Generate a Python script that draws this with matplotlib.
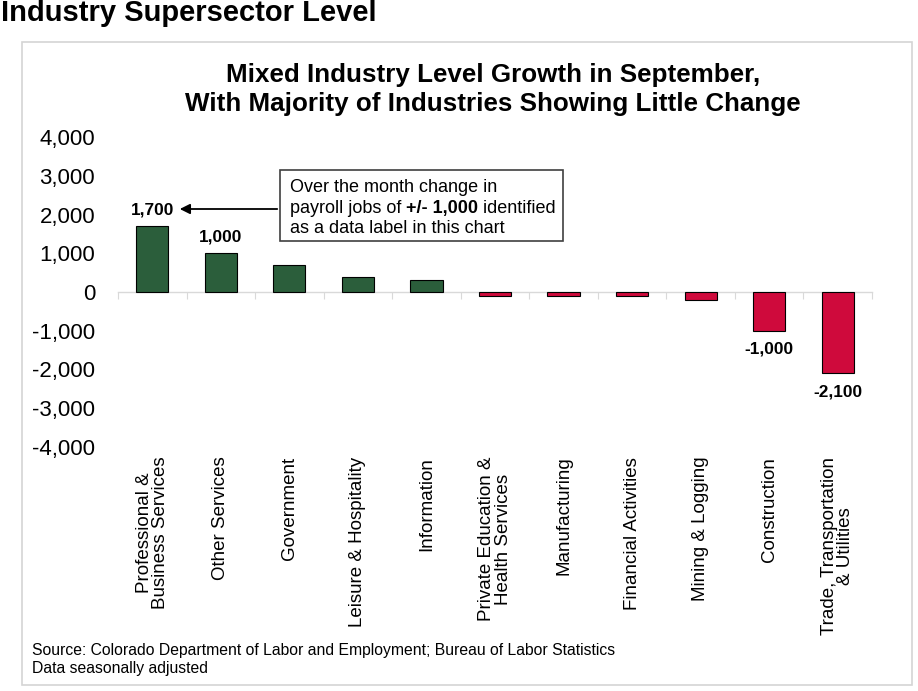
import matplotlib
matplotlib.use("Agg")
import matplotlib.pyplot as plt
from matplotlib.patches import Rectangle, FancyArrowPatch

categories = ["Professional &\nBusiness Services", "Other Services", "Government",
              "Leisure & Hospitality", "Information", "Private Education &\nHealth Services",
              "Manufacturing", "Financial Activities", "Mining & Logging", "Construction",
              "Trade, Transportation\n& Utilities"]
values = [1700, 1000, 700, 400, 300, -100, -100, -100, -200, -1000, -2100]
yticks = [-4000, -3000, -2000, -1000, 0, 1000, 2000, 3000, 4000]

plt.rcParams['font.family'] = ['Liberation Sans', 'DejaVu Sans']
GREEN = '#2b5e3b'
RED = '#cf0a3c'

fig = plt.figure(figsize=(9.18, 6.91), dpi=100)
W, H = 918, 691
def fx(px): return px / W
def fy(py): return 1 - py / H

# panel frame
fig.patches.append(Rectangle((fx(22), fy(685)), fx(912) - fx(22), fy(42) - fy(685),
                             transform=fig.transFigure, fill=False, edgecolor='#d4d4d4', lw=1.2))

fig.text(fx(1), fy(13), "Industry Supersector Level", fontsize=21, fontweight='bold',
         va='center', ha='left')

fig.text(fx(493), fy(75), "Mixed Industry Level Growth in September,", fontsize=18.7,
         fontweight='bold', ha='center', va='center')
fig.text(fx(493), fy(104), "With Majority of Industries Showing Little Change", fontsize=18.7,
         fontweight='bold', ha='center', va='center')

ax = fig.add_axes([fx(118), fy(447), fx(872) - fx(118), fy(137) - fy(447)])
x = list(range(len(categories)))
colors = [GREEN if v >= 0 else RED for v in values]
ax.bar(x, values, width=0.47, color=colors, edgecolor='black', linewidth=0.8, zorder=3)
ax.set_xlim(-0.5, len(categories) - 0.5)
ax.set_ylim(-4000, 4000)
ax.set_yticks(yticks)
ax.set_yticklabels([f"{v:,}" for v in yticks], fontsize=16)
ax.tick_params(axis='y', length=0, pad=16.5)
for s in ['top', 'right', 'left']:
    ax.spines[s].set_visible(False)
ax.spines['bottom'].set_position(('data', 0))
ax.spines['bottom'].set_color('#d9d9d9')
ax.spines['bottom'].set_linewidth(1.0)
ax.set_xticks([i - 0.5 for i in range(len(categories) + 1)])
ax.tick_params(axis='x', length=5, color='#d9d9d9', labelbottom=False, direction='out')

sec = ax.secondary_xaxis(location=0)
sec.set_xticks(x)
sec.set_xticklabels(categories, rotation=90, fontsize=13.5, ha='center', va='top',
                    multialignment='center', linespacing=0.95)
sec.tick_params(length=0, pad=7)
sec.spines['bottom'].set_visible(False)

# data labels for |change| >= 1000
for i, v in enumerate(values):
    if abs(v) >= 1000:
        ax.annotate(f"{v:,}", (i, v), xytext=(0, 6 if v > 0 else -8), textcoords='offset points',
                    ha='center', va='bottom' if v > 0 else 'top', fontsize=12.4, fontweight='bold')

# note box
fig.patches.append(Rectangle((fx(280), fy(241)), fx(563) - fx(280), fy(170) - fy(241),
                             transform=fig.transFigure, fill=False, edgecolor='#404040', lw=1.2,
                             zorder=5))
fs = 13
fig.text(fx(290), fy(187), "Over the month change in", fontsize=fs, va='center', ha='left')
t1 = fig.text(fx(290), fy(209), "payroll jobs of ", fontsize=fs, va='center', ha='left')
t2 = fig.text(0, 0, "+/- 1,000", fontsize=fs, fontweight='bold', va='center', ha='left')
t3 = fig.text(0, 0, " identified", fontsize=fs, va='center', ha='left')
fig.canvas.draw()
r = fig.canvas.get_renderer()
bb1 = t1.get_window_extent(r)
t2.set_position((bb1.x1 / fig.bbox.width, fy(209)))
fig.canvas.draw()
bb2 = t2.get_window_extent(r)
t3.set_position((bb2.x1 / fig.bbox.width, fy(209)))
fig.text(fx(290), fy(229), "as a data label in this chart", fontsize=fs, va='center', ha='left')

fig.patches.append(FancyArrowPatch(
    (fx(280), fy(209)), (fx(177), fy(209)), transform=fig.transFigure,
    arrowstyle='-|>,head_length=6,head_width=3', color='black', lw=1.3, mutation_scale=1))

fig.text(fx(32), fy(650), "Source: Colorado Department of Labor and Employment; Bureau of Labor Statistics",
         fontsize=11.3, va='center', ha='left')
fig.text(fx(32), fy(668), "Data seasonally adjusted",
         fontsize=11.3, va='center', ha='left')

fig.savefig("out.png", dpi=100, facecolor='white')
